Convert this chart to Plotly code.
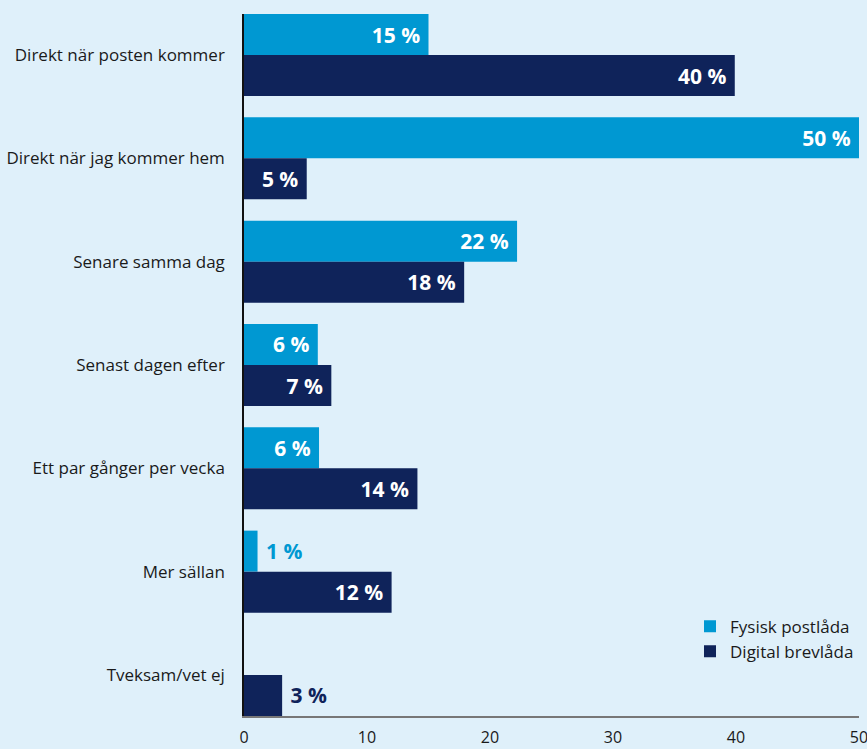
import plotly.graph_objects as go

categories = [
    "Direkt när posten kommer",
    "Direkt när jag kommer hem",
    "Senare samma dag",
    "Senast dagen efter",
    "Ett par gånger per vecka",
    "Mer sällan",
    "Tveksam/vet ej",
]
fysisk = [15.0, 50.0, 22.2, 6.0, 6.1, 1.1, None]
digital = [39.9, 5.1, 17.9, 7.1, 14.1, 12.0, 3.1]
x_ticks = [0, 10, 20, 30, 40, 50]

LIGHT = "#0098d2"
DARK = "#0f235a"
BG = "#dff0fa"
FONT = "Open Sans"
BARGAP = 0.206


def labels(vals):
    out = []
    for v in vals:
        if v is None:
            out.append("")
        elif v >= 4:
            out.append(f"{round(v)}\u00a0%\u00a0")
        else:
            out.append(f"\u00a0{round(v)}\u00a0%")
    return out


def positions(vals):
    return ["inside" if (v is not None and v >= 4) else "outside" for v in vals]


def colors(vals, barcolor):
    return ["white" if (v is not None and v >= 4) else barcolor for v in vals]


fig = go.Figure()
for name, vals, col in [("Fysisk postlåda", fysisk, LIGHT), ("Digital brevlåda", digital, DARK)]:
    fig.add_trace(go.Bar(
        y=categories, x=vals, name=name, orientation="h",
        legendgroup=name,
        marker=dict(color=col, line=dict(width=0)),
        text=labels(vals), textposition=positions(vals),
        insidetextanchor="end",
        textfont=dict(family=FONT, size=21, color=colors(vals, col), weight="bold"),
        outsidetextfont=dict(family=FONT, size=21, color=colors(vals, col), weight="bold"),
        insidetextfont=dict(family=FONT, size=21, color="white", weight="bold"),
        cliponaxis=False,
        hoverinfo="skip",
    ))

n = len(categories)
half = (1 - BARGAP) / 2

fig.update_layout(
    width=867, height=749,
    margin=dict(l=244, r=8, t=14, b=33),
    paper_bgcolor=BG, plot_bgcolor=BG,
    barmode="group", bargap=BARGAP, bargroupgap=0,
    font=dict(family=FONT, size=16, color="#1a1a1a"),
    legend=dict(
        x=1, xanchor="right", y=0.153, yanchor="top",
        traceorder="normal", bgcolor="rgba(0,0,0,0)",
        font=dict(family=FONT, size=17, color="#1a1a1a"),
        itemwidth=30, tracegroupgap=6,
    ),
    showlegend=True,
)
fig.update_xaxes(
    range=[0, 50], tickvals=x_ticks, ticktext=[str(t) for t in x_ticks],
    showgrid=False, zeroline=False, automargin=False,
    showline=True, linecolor="#777777", linewidth=2,
    ticks="", ticklabelstandoff=6, ticklabeloverflow="allow",
    tickfont=dict(family=FONT, size=16, color="#1a1a1a"),
)
fig.update_yaxes(
    type="category", categoryorder="array", categoryarray=categories,
    range=[n - 1 + half, -half], automargin=False,
    showgrid=False, zeroline=False,
    showline=True, linecolor="#111111", linewidth=1.5,
    ticks="", ticklabelstandoff=14,
    tickfont=dict(family=FONT, size=17, color="#1a1a1a"),
)

fig.write_html("out.html")
